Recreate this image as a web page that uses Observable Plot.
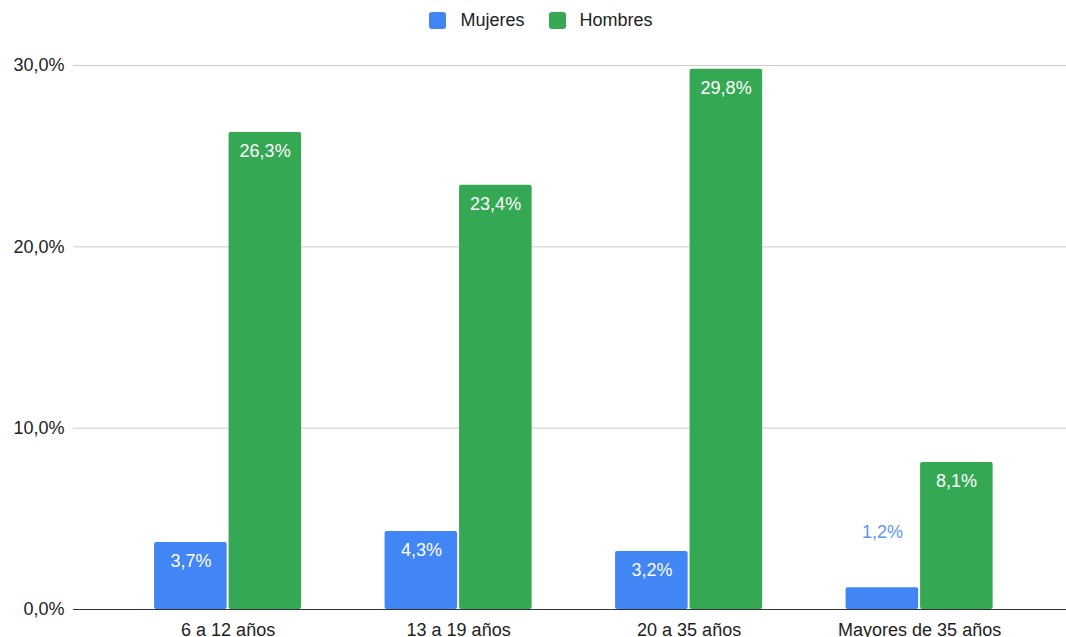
<!DOCTYPE html>
<html>
<head>
<meta charset="utf-8">
<script src="https://cdn.jsdelivr.net/npm/d3@7"></script>
<script src="https://cdn.jsdelivr.net/npm/@observablehq/plot@0.6"></script>
<style>
  html, body { margin: 0; padding: 0; background: #fff; font-family: "Liberation Sans", Arial, sans-serif; }
  #legend { height: 40px; display: flex; justify-content: center; align-items: center; font-size: 18px; color: #222; padding-left: 16px; box-sizing: border-box; }
  .item { display: flex; align-items: center; margin: 0 12px; }
  .sw { width: 17px; height: 17px; border-radius: 3px; margin-right: 14px; }
  #chart svg { display: block; }
</style>
</head>
<body>
<div id="legend"></div>
<div id="chart"></div>
<script>
const categories = ["6 a 12 años", "13 a 19 años", "20 a 35 años", "Mayores de 35 años"];
const series = ["Mujeres", "Hombres"];
const mujeres = [3.7, 4.3, 3.2, 1.2];
const hombres = [26.3, 23.4, 29.8, 8.1];
const yTicks = [0, 10, 20, 30];
const colors = ["#4285F4", "#34A853"];

const fmt = d => d.toFixed(1).replace(".", ",") + "%";

const rows = [];
categories.forEach((c, i) => {
  rows.push({cat: c, sex: "Mujeres", value: mujeres[i]});
  rows.push({cat: c, sex: "Hombres", value: hombres[i]});
});
const muj = rows.filter(d => d.sex === "Mujeres");
const hom = rows.filter(d => d.sex === "Hombres");
const inside = d => d.value >= 2;

// legend
const legend = document.getElementById("legend");
series.forEach((s, i) => {
  const it = document.createElement("div");
  it.className = "item";
  it.innerHTML = `<span class="sw" style="background:${colors[i]}"></span><span>${s}</span>`;
  legend.appendChild(it);
});

const half = 74.5;
const off = 37;
const FS = 18;

const plot = Plot.plot({
  width: 1066,
  height: 597,
  marginLeft: 73,
  marginRight: 0,
  marginTop: 25,
  marginBottom: 28,
  style: {fontFamily: "'Liberation Sans', Arial, sans-serif", fontSize: FS + "px", color: "#222", background: "#fff"},
  x: {domain: categories, paddingInner: 0.362, paddingOuter: 0.335, align: 0.525, round: false, label: null},
  y: {domain: [0, 30], label: null},
  marks: [
    Plot.ruleY(yTicks.filter(d => d > 0), {stroke: "#cccccc", strokeWidth: 1}),
    Plot.barY(muj, {x: "cat", y: "value", fill: colors[0], insetRight: half, rx: 2}),
    Plot.barY(hom, {x: "cat", y: "value", fill: colors[1], insetLeft: half, rx: 2}),
    Plot.ruleY([0], {stroke: "#333333", strokeWidth: 1}),
    Plot.text(muj.filter(inside), {x: "cat", y: "value", text: d => fmt(d.value), dx: -off, dy: 19, fill: "white", fontSize: FS}),
    Plot.text(muj.filter(d => !inside(d)), {x: "cat", y: "value", text: d => fmt(d.value), dx: -off, dy: -56, fill: "#5e97f6", fontSize: FS}),
    Plot.text(hom, {x: "cat", y: "value", text: d => fmt(d.value), dx: off, dy: 19, fill: "white", fontSize: FS}),
    Plot.axisY({ticks: yTicks, tickFormat: fmt, tickSize: 0, tickPadding: 9, label: null, fontSize: FS}),
    Plot.axisX({tickSize: 0, tickPadding: 14, label: null, fontSize: FS})
  ]
});
document.getElementById("chart").appendChild(plot);
</script>
</body>
</html>
